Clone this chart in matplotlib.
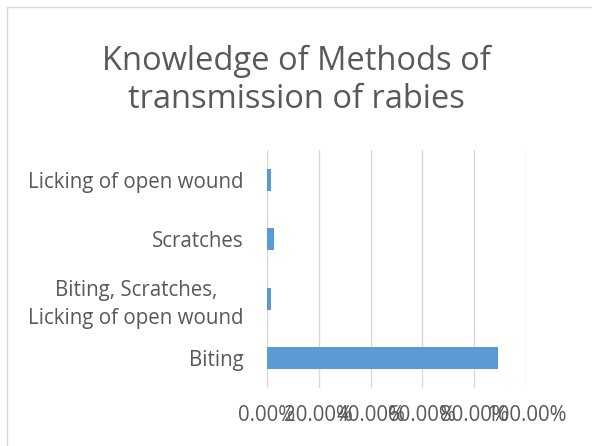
import matplotlib
matplotlib.use("Agg")
import matplotlib.pyplot as plt
from matplotlib.patches import Rectangle
from matplotlib.ticker import FuncFormatter

# bottom -> top, as drawn by the horizontal bar chart
categories = ["Biting", "Biting, Scratches,\nLicking of open wound",
              "Scratches", "Licking of open wound"]
values = [0.893, 0.014, 0.028, 0.014]
xticks = [0.0, 0.2, 0.4, 0.6, 0.8, 1.0]

TEXT = "#595959"
BAR = "#5B9BD5"
GRID = "#D9D9D9"

plt.rcParams["font.family"] = ["Open Sans", "DejaVu Sans"]

fig = plt.figure(figsize=(5.92, 4.46), dpi=100)
fig.patches.append(Rectangle((7 / 592, -0.01), 1.0, 1 - 7 / 446 + 0.01,
                             transform=fig.transFigure, fill=False,
                             edgecolor="#D9D9D9", lw=1.0))
ax = fig.add_axes([267 / 592, 1 - 388 / 446, (526 - 267) / 592, (388 - 150) / 446])

y = range(len(categories))
ax.barh(y, values, height=0.37, color=BAR, zorder=3)
ax.set_xlim(0, 1.0)
ax.set_ylim(-0.5, len(categories) - 0.5)
ax.set_xticks(xticks)
ax.xaxis.set_major_formatter(FuncFormatter(lambda v, _: f"{v * 100:.2f}%"))
ax.set_yticks(list(y))
ax.set_yticklabels(categories, ha="right", multialignment="center", linespacing=1.45)
ax.tick_params(axis="both", length=0, colors=TEXT, labelsize=14.8)
ax.tick_params(axis="x", pad=12)
ax.tick_params(axis="y", pad=17)
ax.grid(axis="x", color=GRID, lw=1.0, zorder=0)
for s in ax.spines.values():
    s.set_visible(False)

fig.text(0.5, 1 - 80 / 446, "Knowledge of Methods of\ntransmission of rabies",
         ha="center", va="center", fontsize=23.5, color=TEXT, linespacing=1.2)

fig.savefig("out.png", dpi=100)
